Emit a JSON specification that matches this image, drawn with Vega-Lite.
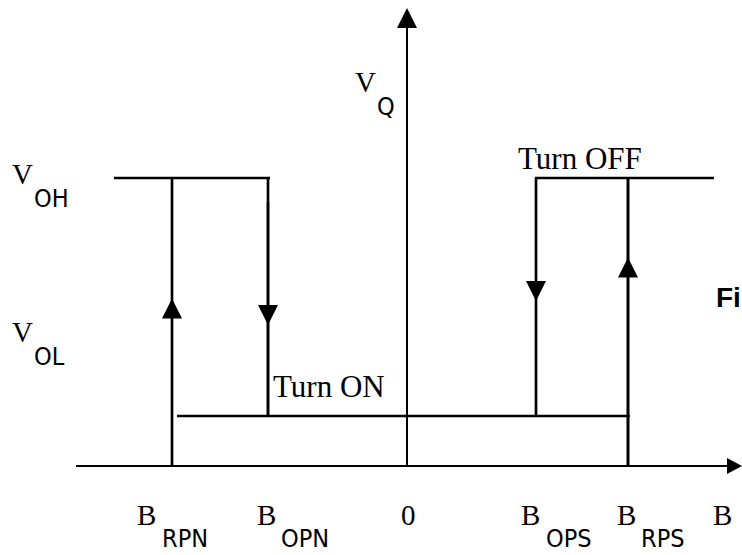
{
  "$schema": "https://vega.github.io/schema/vega-lite/v6.json",
  "width": 742,
  "height": 555,
  "padding": 0,
  "autosize": {"type": "none"},
  "background": "white",
  "config": {"view": {"stroke": null}},
  "datasets": {
    "segments": [
      {"b": -331, "v": 0, "b2": 320, "v2": 0, "kind": "axis"},
      {"b": 0, "v": 0, "b2": 0, "v2": 440, "kind": "axis"},
      {"b": -293, "v": 288, "b2": -137, "v2": 288, "kind": "level"},
      {"b": 128, "v": 288, "b2": 307, "v2": 288, "kind": "level"},
      {"b": -230, "v": 50, "b2": 223, "v2": 50, "kind": "level"},
      {"b": -235, "v": 0, "b2": -235, "v2": 288, "kind": "thin"},
      {"b": -139, "v": 264, "b2": -139, "v2": 288, "kind": "thin"},
      {"b": -139, "v": 50, "b2": -139, "v2": 264, "kind": "thick"},
      {"b": 129, "v": 50, "b2": 129, "v2": 288, "kind": "thin"},
      {"b": 221, "v": 0, "b2": 221, "v2": 288, "kind": "thick"}
    ],
    "arrows": [
      {"b": -235, "v": 157.5, "dir": "up"},
      {"b": 221, "v": 198.5, "dir": "up"},
      {"b": -139, "v": 151, "dir": "down"},
      {"b": 129, "v": 175, "dir": "down"},
      {"b": 0, "v": 448, "dir": "up"},
      {"b": 327.5, "v": 0, "dir": "right"}
    ],
    "symbols": [
      {"b": -395, "v": 282, "label": "V"},
      {"b": -395, "v": 124, "label": "V"},
      {"b": -52, "v": 374, "label": "V"},
      {"b": -270, "v": -59, "label": "B"},
      {"b": -150, "v": -59, "label": "B"},
      {"b": -6, "v": -59, "label": "0"},
      {"b": 114, "v": -59, "label": "B"},
      {"b": 210, "v": -59, "label": "B"},
      {"b": 306, "v": -59, "label": "B"}
    ],
    "subscripts": [
      {"b": -373, "v": 259, "label": "OH"},
      {"b": -373, "v": 101, "label": "OL"},
      {"b": -30, "v": 351, "label": "Q"},
      {"b": -245, "v": -81, "label": "RPN"},
      {"b": -126, "v": -81, "label": "OPN"},
      {"b": 139, "v": -81, "label": "OPS"},
      {"b": 234, "v": -81, "label": "RPS"}
    ],
    "notes": [
      {"b": -134, "v": 69, "label": "Turn ON"},
      {"b": 111, "v": 297, "label": "Turn OFF"}
    ],
    "caption": [
      {"b": 309, "v": 159, "label": "Fi"}
    ]
  },
  "encoding": {
    "x": {"field": "b", "type": "quantitative", "scale": {"domain": [-407, 335], "nice": false, "zero": false}, "axis": null},
    "y": {"field": "v", "type": "quantitative", "scale": {"domain": [-89, 466], "nice": false, "zero": false}, "axis": null}
  },
  "layer": [
    {
      "data": {"name": "segments"},
      "mark": {"type": "rule", "color": "black", "strokeCap": "butt"},
      "encoding": {
        "x2": {"field": "b2"},
        "y2": {"field": "v2"},
        "strokeWidth": {"field": "kind", "type": "nominal", "scale": {"domain": ["axis", "level", "thin", "thick"], "range": [2, 3, 1.6, 2.4]}, "legend": null}
      }
    },
    {
      "data": {"name": "arrows"},
      "mark": {"type": "point", "filled": true, "color": "black", "opacity": 1, "size": 400, "strokeWidth": 0},
      "encoding": {
        "shape": {"field": "dir", "type": "nominal", "scale": {"domain": ["up", "down", "right"], "range": ["M0,-1L1,1L-1,1Z", "M0,1L1,-1L-1,-1Z", "M0.75,0L-0.75,-0.8L-0.75,0.8Z"]}, "legend": null}
      }
    },
    {
      "data": {"name": "symbols"},
      "mark": {"type": "text", "font": "Liberation Serif", "fontSize": 29, "align": "left", "baseline": "alphabetic", "color": "black"},
      "encoding": {"text": {"field": "label"}}
    },
    {
      "data": {"name": "subscripts"},
      "mark": {"type": "text", "font": "Liberation Sans Narrow, DejaVu Sans Condensed, Liberation Sans", "fontSize": 25, "align": "left", "baseline": "alphabetic", "color": "black"},
      "encoding": {"text": {"field": "label"}}
    },
    {
      "data": {"name": "notes"},
      "mark": {"type": "text", "font": "Liberation Serif", "fontSize": 31, "align": "left", "baseline": "alphabetic", "color": "black"},
      "encoding": {"text": {"field": "label"}}
    },
    {
      "data": {"name": "caption"},
      "mark": {"type": "text", "font": "Liberation Sans", "fontSize": 28, "fontWeight": "bold", "align": "left", "baseline": "alphabetic", "color": "black"},
      "encoding": {"text": {"field": "label"}}
    }
  ]
}
